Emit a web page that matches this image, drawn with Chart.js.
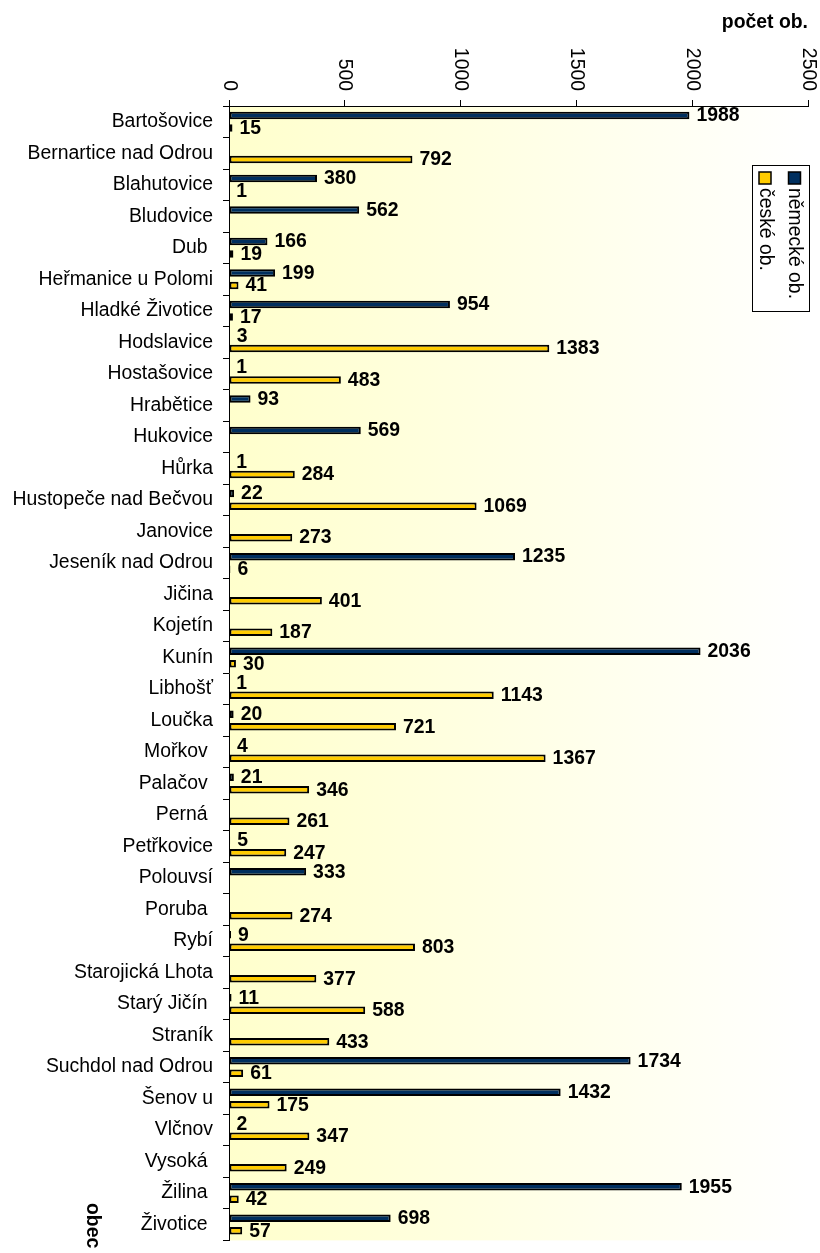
<!DOCTYPE html>
<html>
<head>
<meta charset="utf-8">
<script src="https://cdn.jsdelivr.net/npm/chart.js@4/dist/chart.umd.min.js"></script>
<style>
html, body { margin:0; padding:0; background:#fff; overflow:hidden; }
#clip { width:820px; height:1253px; overflow:hidden; position:relative; }
canvas { display:block; }
</style>
</head>
<body>
<div id="clip"><canvas id="c" width="820" height="1262" style="width:820px;height:1262px"></canvas></div>
<script>
const categories = ["Bartošovice","Bernartice nad Odrou","Blahutovice","Bludovice","Dub ","Heřmanice u Polomi","Hladké Životice","Hodslavice","Hostašovice","Hrabětice","Hukovice","Hůrka","Hustopeče nad Bečvou","Janovice","Jeseník nad Odrou","Jičina","Kojetín","Kunín","Libhošť","Loučka","Mořkov ","Palačov ","Perná ","Petřkovice","Polouvsí","Poruba ","Rybí","Starojická Lhota","Starý Jičín ","Straník","Suchdol nad Odrou","Šenov u","Vlčnov","Vysoká ","Žilina ","Životice "];
const germanValues = [1988,null,380,562,166,199,954,3,1,93,569,1,22,null,1235,null,null,2036,1,20,4,21,null,5,333,null,9,null,11,null,1734,1432,2,null,1955,698];
const czechValues = [15,792,1,null,19,41,17,1383,483,null,null,284,1069,273,6,401,187,30,1143,721,1367,346,261,247,null,274,803,377,588,433,61,175,347,249,42,57];
const xTickValues = [0,500,1000,1500,2000,2500];
const seriesNames = ["německé ob.","české ob."];
const seriesColors = ["#002F5F","#FFCC00"];
const xAxisTitle = "počet ob.";
const yAxisTitle = "obec";

const FONT = "'Liberation Sans', Arial, sans-serif";
const FS = 19.4;

const bgPlugin = {
  id: 'bg',
  beforeDraw(chart) {
    const {ctx, chartArea: a} = chart;
    const g = ctx.createLinearGradient(a.left, 0, a.right, 0);
    g.addColorStop(0, '#FFFFCC');
    g.addColorStop(1, '#FFFFFF');
    ctx.save();
    ctx.fillStyle = g;
    ctx.fillRect(a.left, a.top, a.right - a.left, a.bottom - a.top);
    ctx.restore();
  }
};

const labelPlugin = {
  id: 'vals',
  afterDatasetsDraw(chart) {
    const ctx = chart.ctx;
    ctx.save();
    ctx.font = 'bold ' + FS + 'px ' + FONT;
    ctx.fillStyle = '#000';
    ctx.textAlign = 'left';
    ctx.textBaseline = 'middle';
    chart.data.datasets.forEach((ds, di) => {
      const meta = chart.getDatasetMeta(di);
      meta.data.forEach((el, i) => {
        const v = ds.data[i];
        if (v === null || v === undefined) return;
        ctx.fillText(String(v), el.x + 7, el.y + 0.5);
      });
    });
    ctx.restore();
  }
};

const decoPlugin = {
  id: 'deco',
  afterDraw(chart) {
    const ctx = chart.ctx;
    const xs = chart.scales.x;
    ctx.save();
    ctx.fillStyle = '#000';
    ctx.font = FS + 'px ' + FONT;
    xTickValues.forEach(v => {
      const px = xs.getPixelForValue(v);
      ctx.save();
      ctx.translate(px, 91);
      ctx.rotate(Math.PI / 2);
      ctx.textAlign = 'right';
      ctx.textBaseline = 'middle';
      ctx.fillText(String(v), 0, 0);
      ctx.restore();
    });
    ctx.font = 'bold ' + FS + 'px ' + FONT;
    ctx.textAlign = 'right';
    ctx.textBaseline = 'alphabetic';
    ctx.fillText(xAxisTitle, 808, 27.5);
    ctx.save();
    ctx.translate(92, 1203);
    ctx.rotate(Math.PI / 2);
    ctx.textAlign = 'left';
    ctx.textBaseline = 'middle';
    ctx.fillText(yAxisTitle, 0, 0);
    ctx.restore();
    ctx.fillStyle = '#fff';
    ctx.fillRect(752, 165, 58, 146);
    ctx.strokeStyle = '#000';
    ctx.lineWidth = 1;
    ctx.strokeRect(752.5, 165.5, 57, 146);
    const cols = [794.5, 765];
    seriesNames.forEach((name, i) => {
      const cx = cols[i];
      ctx.fillStyle = seriesColors[i];
      ctx.fillRect(cx - 6, 172, 12, 12);
      ctx.strokeStyle = '#000';
      ctx.lineWidth = 1.5;
      ctx.strokeRect(cx - 6, 172, 12, 12);
      ctx.save();
      ctx.translate(cx, 188);
      ctx.rotate(Math.PI / 2);
      ctx.fillStyle = '#000';
      ctx.font = FS + 'px ' + FONT;
      ctx.textAlign = 'left';
      ctx.textBaseline = 'middle';
      ctx.fillText(name, 0, 0);
      ctx.restore();
    });
    ctx.restore();
  }
};

new Chart(document.getElementById('c'), {
  type: 'bar',
  data: {
    labels: categories,
    datasets: [
      { label: seriesNames[0], data: germanValues, backgroundColor: seriesColors[0], borderColor: '#000', borderWidth: 2, borderSkipped: false },
      { label: seriesNames[1], data: czechValues, backgroundColor: seriesColors[1], borderColor: '#000', borderWidth: 2, borderSkipped: false }
    ]
  },
  options: {
    indexAxis: 'y',
    responsive: false,
    maintainAspectRatio: false,
    animation: false,
    devicePixelRatio: 1,
    categoryPercentage: 0.794,
    barPercentage: 0.6,
    layout: { padding: { left: 0, right: 12, top: 0, bottom: 4 } },
    plugins: { legend: { display: false }, tooltip: { enabled: false } },
    scales: {
      x: {
        position: 'top',
        min: 0, max: 2500,
        ticks: { display: false, stepSize: 500 },
        grid: { display: true, drawOnChartArea: false, drawTicks: true, tickLength: 6, color: '#000', lineWidth: 1 },
        border: { display: true, color: '#000', width: 1 },
        afterFit(s) { s.height = 106; }
      },
      y: {
        ticks: { color: '#000', font: { family: FONT, size: FS }, padding: 10, autoSkip: false },
        grid: { display: true, drawOnChartArea: false, drawTicks: true, tickLength: 6, color: '#000', lineWidth: 1, offset: true },
        border: { display: true, color: '#000', width: 1 },
        afterFit(s) { s.width = 229; }
      }
    }
  },
  plugins: [bgPlugin, labelPlugin, decoPlugin]
});
</script>
</body>
</html>
